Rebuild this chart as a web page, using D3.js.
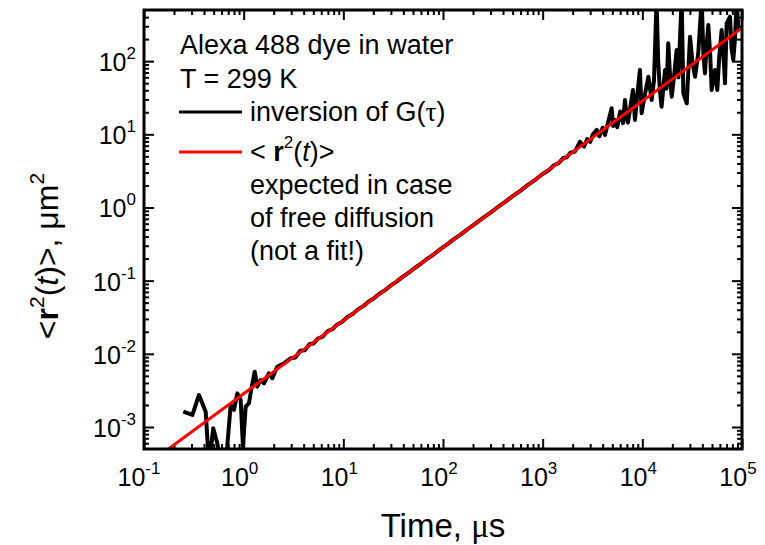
<!DOCTYPE html>
<html>
<head>
<meta charset="utf-8">
<script src="https://cdn.jsdelivr.net/npm/d3@7"></script>
<style>
  body { margin: 0; background: #fff; }
  text { font-family: "Liberation Sans", Arial, sans-serif; fill: #000; }
</style>
</head>
<body>
<div id="chart"></div>
<script>
// time in microseconds, MSD in um^2
var timeBlack = [
  0.248, 0.306, 0.356, 0.416, 0.449, 0.495, 0.543, 0.593, 0.66, 0.741,
  0.80, 0.863, 0.933, 0.984, 1.047, 1.13, 1.19, 1.29, 1.37, 1.48,
  1.60, 1.79, 1.94, 2.17, 2.54, 2.96,
  3.3, 3.7, 4.1, 4.6, 5.0, 5.6, 6.2, 7.0, 7.8, 8.7, 9.6, 11, 12.5, 14, 16, 18, 20,
  23, 26, 30, 34, 39, 45, 52, 60, 70, 80, 95, 110, 130, 150, 180, 210, 250, 300,
  350, 420, 500, 600, 700, 850, 1000, 1150, 1300, 1450, 1600, 1750, 1900, 2100,
  2250, 2366, 2600, 2800, 3000, 3200, 3483, 3700, 4000, 4217,
  4920, 5100, 5317, 5600, 6000, 6400, 6699, 7000, 7178, 7600, 8054, 8433, 8800,
  9462, 9840, 10600, 11500, 12400, 13100, 13900, 14400, 15000, 15600, 16900,
  17500, 18200, 19000, 19700, 21000, 22100, 23000, 24800, 25800, 27900, 30100,
  32000, 33800, 36400, 39400, 41000, 42500, 44000, 45900, 48000, 49600, 53500,
  56500, 59000, 62500, 66000, 67500, 70200, 75800, 78500, 81800, 85000, 88500, 91800
];
var msdBlack = [
  1.62e-3, 1.46e-3, 2.74e-3, 1.62e-3, 3e-4, 9.6e-4, 6.0e-4, 3e-4, 3e-4, 2.0e-3,
  1.71e-3, 2.88e-3, 2.34e-3, 5.4e-4, 1.89e-3, 2.11e-3, 3.2e-3, 5.7e-3, 3.56e-3, 4.39e-3,
  3.95e-3, 5.42e-3, 4.63e-3, 6.67e-3, 7.4e-3, 8.7e-3,
  8.9e-3, 1.10e-2, 1.12e-2, 1.36e-2, 1.38e-2, 1.62e-2, 1.72e-2, 2.05e-2, 2.18e-2, 2.52e-2,
  2.70e-2, 3.18e-2, 3.52e-2, 4.05e-2, 4.52e-2, 5.18e-2, 5.65e-2,
  6.62e-2, 7.35e-2, 8.60e-2, 9.62e-2, 0.1118, 0.1275, 0.149, 0.170, 0.2005, 0.227, 0.272,
  0.313, 0.372, 0.426, 0.515, 0.597, 0.716, 0.852,
  1.00, 1.195, 1.43, 1.70, 2.00, 2.41, 2.87, 3.22, 3.78, 4.05, 4.70, 4.85, 5.6, 5.8,
  6.9, 7.9, 6.8, 8.6, 7.9, 10.0, 11.5, 9.4, 12.3, 9.8,
  22.7, 13.0, 15.7, 12.5, 20.5, 14.2, 29.4, 16.0, 14.5, 24, 40.3, 15.7, 30,
  75.7, 19.5, 34.5, 61.3, 29.4, 55.2, 700, 104, 40, 23.8, 75.7,
  42, 175, 60, 32.7, 70, 142, 60, 700, 36.4, 26.5, 216,
  90, 61.3, 128, 700, 120, 68, 150, 312, 120, 40.3, 75.7,
  40.3, 110, 267, 90, 49.8, 329, 405, 150, 104, 200, 700, 267
];

// expected free diffusion line (straight in log-log)
var timeFree = [0.1, 1e5];
var msdFree = [2.85e-4, 285];

var xDecades = [-1, 0, 1, 2, 3, 4, 5];
var yDecades = [-3, -2, -1, 0, 1, 2];
var minorSteps = [2, 3, 4, 5, 6, 7, 8, 9];

var legendLines = ["Alexa 488 dye in water", "T = 299 K"];

var w = 765, h = 545;
var margin = {left: 144, right: 23, top: 10, bottom: 96};
var pw = w - margin.left - margin.right;
var ph = h - margin.top - margin.bottom;

var svg = d3.select("#chart").append("svg")
    .attr("width", w)
    .attr("height", h);

var x = d3.scaleLog().domain([0.1, 1e5]).range([0, pw]);
var y = d3.scaleLog().domain([5e-4, 500]).range([ph, 0]);

var g = svg.append("g")
    .attr("transform", "translate(" + margin.left + "," + margin.top + ")");

g.append("clipPath").attr("id", "clip")
  .append("rect").attr("width", pw).attr("height", ph);

//tick values from decades
function majorsOf(dec) {
    return dec.map(function (d) { return Math.pow(10, d); });
}
function minorsOf(dec, lo, hi) {
    var out = [];
    dec.concat([dec[0] - 1]).forEach(function (d) {
        minorSteps.forEach(function (m) {
            var v = m * Math.pow(10, d);
            if (v > lo && v < hi) out.push(v);
        });
    });
    return out;
}
var xMaj = majorsOf(xDecades), xMin = minorsOf(xDecades, 0.1, 1e5);
var yMaj = majorsOf(yDecades), yMin = minorsOf(yDecades, 5e-4, 500);

function tickAxis(axisFn, scale, vals, size, tr) {
    var a = g.append("g")
        .attr("transform", tr)
        .call(axisFn(scale).tickValues(vals).tickSize(size).tickFormat(""));
    a.select(".domain").remove();
    a.selectAll("line").attr("stroke", "#000").attr("stroke-width", 2);
}
// ticks point inward on all four sides
tickAxis(d3.axisBottom, x, xMaj, -10, "translate(0," + ph + ")");
tickAxis(d3.axisBottom, x, xMin, -5, "translate(0," + ph + ")");
tickAxis(d3.axisTop, x, xMaj, -10, "translate(0,0)");
tickAxis(d3.axisTop, x, xMin, -5, "translate(0,0)");
tickAxis(d3.axisLeft, y, yMaj, -10, "translate(0,0)");
tickAxis(d3.axisLeft, y, yMin, -5, "translate(0,0)");
tickAxis(d3.axisRight, y, yMaj, -10, "translate(" + pw + ",0)");
tickAxis(d3.axisRight, y, yMin, -5, "translate(" + pw + ",0)");

// data lines
var line = d3.line()
    .x(function (d) { return x(d[0]); })
    .y(function (d) { return y(d[1]); });

var blackPts = timeBlack.map(function (t, i) { return [t, msdBlack[i]]; });
var freePts = timeFree.map(function (t, i) { return [t, msdFree[i]]; });

var plot = g.append("g").attr("clip-path", "url(#clip)");
plot.append("path")
    .datum(blackPts)
    .attr("d", line)
    .attr("fill", "none")
    .attr("stroke", "#000")
    .attr("stroke-width", 4)
    .attr("stroke-linejoin", "round");
plot.append("path")
    .datum(freePts)
    .attr("d", line)
    .attr("fill", "none")
    .attr("stroke", "#ff0000")
    .attr("stroke-width", 3);

// frame
g.append("rect")
    .attr("width", pw).attr("height", ph)
    .attr("fill", "none").attr("stroke", "#000").attr("stroke-width", 3);

// tick labels with exponents
xDecades.forEach(function (d) {
    var t = g.append("text")
        .attr("x", x(Math.pow(10, d)) - (d < 0 ? 5 : 4))
        .attr("y", ph + 37)
        .attr("text-anchor", "middle")
        .style("font-size", "25px");
    t.append("tspan").text("10");
    t.append("tspan").attr("dy", -12).style("font-size", "17px").text(d);
});
yDecades.forEach(function (d) {
    var t = g.append("text")
        .attr("x", -8)
        .attr("y", y(Math.pow(10, d)) + 10)
        .attr("text-anchor", "end")
        .style("font-size", "25px");
    t.append("tspan").text("10");
    t.append("tspan").attr("dy", -12).style("font-size", "17px").text(d);
});

// axis titles
var xt = svg.append("text")
    .attr("x", 443).attr("y", 537)
    .attr("text-anchor", "middle")
    .style("font-size", "33px");
xt.append("tspan").text("Time, ");
xt.append("tspan").style("font-family", "Liberation Serif").text("\u03bc");
xt.append("tspan").text("s");

var yt = svg.append("text")
    .attr("transform", "translate(58,256) rotate(-90)")
    .attr("text-anchor", "middle")
    .style("font-size", "32px");
yt.append("tspan").text("<");
yt.append("tspan").style("font-weight", "bold").text("r");
yt.append("tspan").attr("dy", -14).style("font-size", "21px").text("2");
yt.append("tspan").attr("dy", 14).text("(");
yt.append("tspan").style("font-style", "italic").text("t");
yt.append("tspan").text(")>, \u03bcm");
yt.append("tspan").attr("dy", -14).style("font-size", "21px").text("2");

// legend
var lg = svg.append("g").style("font-size", "27px");
legendLines.forEach(function (s, i) {
    lg.append("text").attr("x", 180).attr("y", 54 + i * 34).text(s);
});
lg.append("line").attr("x1", 179).attr("x2", 242).attr("y1", 112).attr("y2", 112)
    .attr("stroke", "#000").attr("stroke-width", 3);
lg.append("line").attr("x1", 179).attr("x2", 242).attr("y1", 152).attr("y2", 152)
    .attr("stroke", "#ff0000").attr("stroke-width", 3);

var l1 = lg.append("text").attr("x", 250).attr("y", 121);
l1.append("tspan").text("inversion of G(");
l1.append("tspan").style("font-family", "Liberation Serif").text("\u03c4");
l1.append("tspan").text(")");

var l2 = lg.append("text").attr("x", 250).attr("y", 161);
l2.append("tspan").text("< ");
l2.append("tspan").style("font-weight", "bold").text("r");
l2.append("tspan").attr("dy", -13).style("font-size", "17px").text("2");
l2.append("tspan").attr("dy", 13).text("(");
l2.append("tspan").style("font-style", "italic").text("t");
l2.append("tspan").text(")>");

["expected in case", "of free diffusion", "(not a fit!)"].forEach(function (s, i) {
    lg.append("text").attr("x", 250).attr("y", 194 + i * 33).text(s);
});
</script>
</body>
</html>
